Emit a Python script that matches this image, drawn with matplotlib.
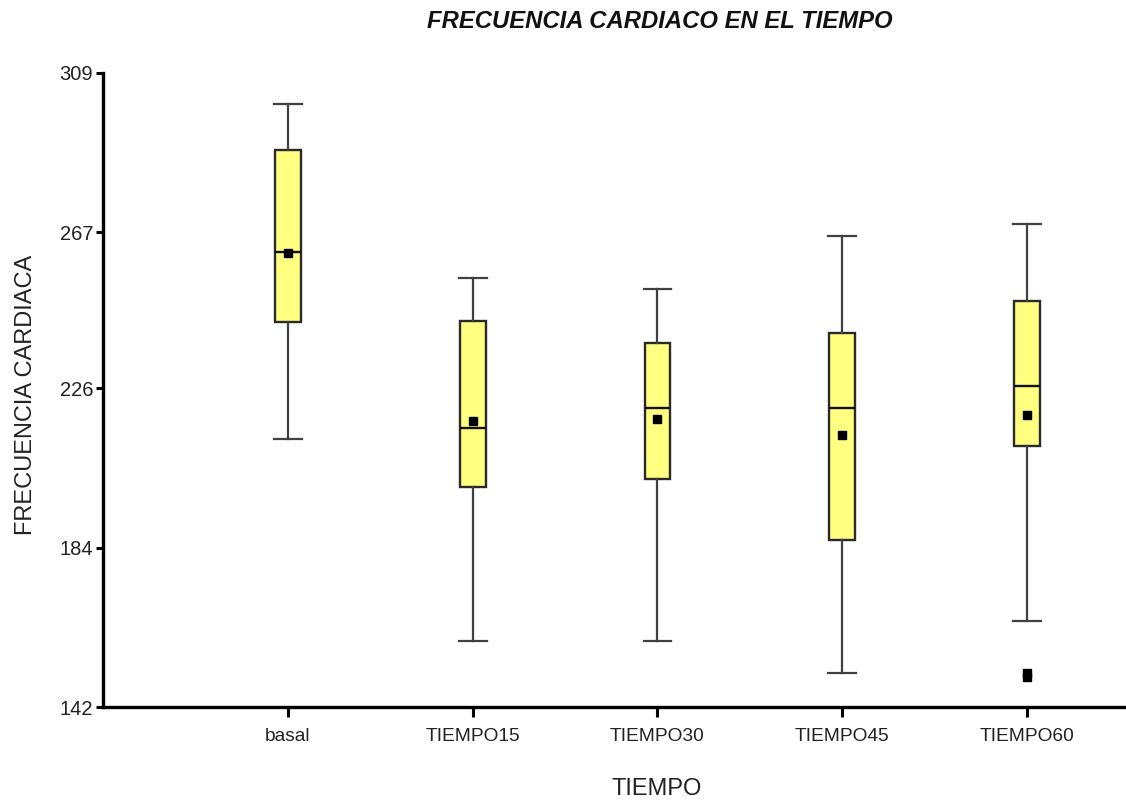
import matplotlib.pyplot as plt

# heart rate per time point (box stats)
grupos = ["basal", "TIEMPO15", "TIEMPO30", "TIEMPO45", "TIEMPO60"]
bigote_inf = [212.5, 159.4, 159.4, 151.1, 164.6]
q1 = [243.3, 199.9, 202.0, 186.0, 210.8]
mediana = [261.8, 215.5, 220.8, 220.8, 226.6]
q3 = [288.8, 243.6, 237.8, 240.5, 248.8]
bigote_sup = [300.8, 255.0, 252.0, 266.0, 269.1]
media = [261.6, 217.4, 217.9, 213.7, 218.9]
atipicos = [[], [], [], [], [149.9, 150.9]]

yticks = [142, 184, 226, 267, 309]

stats = []
for i, g in enumerate(grupos):
    stats.append({
        "label": g,
        "whislo": bigote_inf[i],
        "q1": q1[i],
        "med": mediana[i],
        "q3": q3[i],
        "whishi": bigote_sup[i],
        "mean": media[i],
        "fliers": atipicos[i],
    })

plt.rcParams["font.family"] = ["Liberation Sans", "DejaVu Sans"]

fig = plt.figure(figsize=(11.26, 8.0), dpi=100)
ax = fig.add_axes([0.0915, 0.116, 0.9085, 0.793])

pos = list(range(1, len(grupos) + 1))
ax.bxp(stats, positions=pos, widths=0.14, patch_artist=True, showmeans=True,
       boxprops=dict(facecolor="#ffff80", edgecolor="#2a2a2a", linewidth=1.7),
       medianprops=dict(color="#111111", linewidth=1.7),
       whiskerprops=dict(color="#404040", linewidth=1.6),
       capprops=dict(color="#404040", linewidth=1.6),
       capwidths=0.15,
       meanprops=dict(marker="s", markerfacecolor="black", markeredgecolor="black",
                      markersize=6),
       flierprops=dict(marker="s", markerfacecolor="black", markeredgecolor="black",
                       markersize=6))

ax.set_ylim(142, 309)
ax.set_xlim(0, 5.535)
ax.set_yticks(yticks)
ax.set_xticks(pos)
ax.set_xticklabels(grupos)

for s in ["top", "right"]:
    ax.spines[s].set_visible(False)
for s in ["left", "bottom"]:
    ax.spines[s].set_linewidth(2.4)
    ax.spines[s].set_color("black")

ax.tick_params(axis="y", length=5, width=2.2, labelsize=14.5, colors="black",
               labelcolor="#222222", pad=2)
ax.tick_params(axis="x", length=7, width=2.2, labelsize=13.8, colors="black",
               labelcolor="#222222", pad=8)

ax.set_ylabel("FRECUENCIA CARDIACA", fontsize=17, color="#222222")
ax.yaxis.set_label_coords(-0.065, 0.493)
ax.set_xlabel("TIEMPO", fontsize=17, color="#222222", va="top")
ax.xaxis.set_label_coords(0.5415, -0.112)
fig.suptitle("FRECUENCIA CARDIACO EN EL TIEMPO", x=0.586, y=0.987,
             fontsize=17.2, fontweight="bold", fontstyle="italic", color="#111111")

fig.savefig("out.png", dpi=100)
